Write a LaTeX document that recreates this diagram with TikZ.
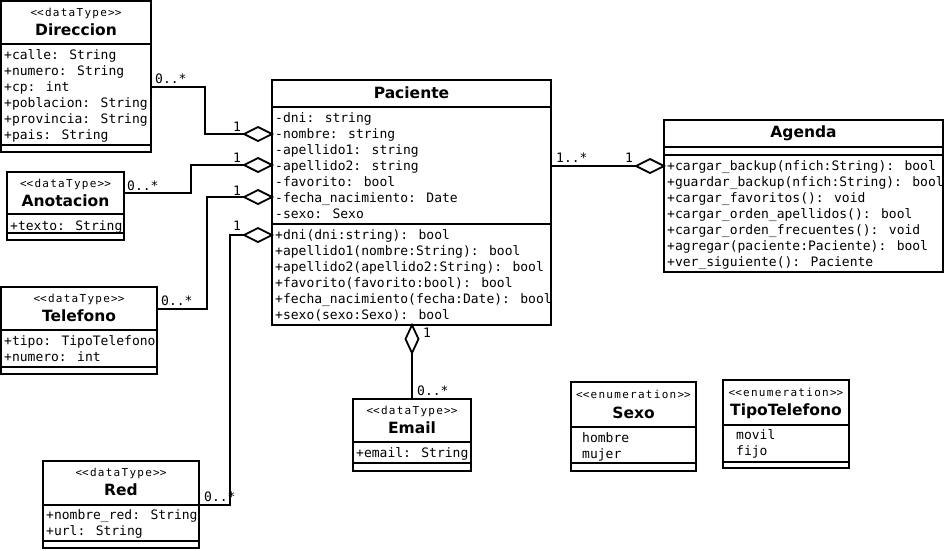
\documentclass[tikz,border=0pt]{standalone}
\usepackage{fontspec}
\setmainfont{DejaVu Sans}
\newfontfamily\monof{DejaVu Sans Mono}
\newfontfamily\stf{DejaVu Sans Mono}[LetterSpace=11.6]
\usetikzlibrary{shapes.geometric,calc}
\tikzset{
  cls/.style={draw, line width=1.8pt, inner sep=0pt, outer sep=0pt, anchor=north west},
  sep/.style={line width=1.8pt},
  ttl/.style={font=\fontsize{15.5}{18}\selectfont\bfseries, inner sep=0pt},
  stereo/.style={font=\stf\fontsize{11}{13}\selectfont, inner sep=0pt},
  attr/.style={font=\monof\fontsize{13}{16}\selectfont, inner sep=0pt, anchor=base west},
  mult/.style={font=\monof\fontsize{13}{16}\selectfont, inner sep=0pt, anchor=base west},
  agg/.style={draw, shape=diamond, fill=white, line width=1.8pt, inner sep=0pt, outer sep=0pt, minimum width=28pt, minimum height=14pt},
  aggv/.style={draw, shape=diamond, fill=white, line width=1.8pt, inner sep=0pt, outer sep=0pt, minimum width=13pt, minimum height=28pt},
  conn/.style={line width=1.8pt},
}
\newcommand\dT{<\kern0pt<dataType>\kern0pt>}
\newcommand\eN{<\kern0pt<enumeration>\kern0pt>}
\begin{document}
\begin{tikzpicture}[x=1pt,y=-1pt]
\useasboundingbox[fill=white] (0,0) rectangle (944,550);

% ---------- Direccion
\node[cls, minimum width=150pt, minimum height=151pt] (dir) at (1,1) {};
\node[stereo] at (76,13) {\dT};
\node[ttl] at (76,30) {Direccion};
\draw[sep] (1,44) -- (151,44);
\node[attr] at (4,59) {+calle: String};
\node[attr] at (4,75) {+numero: String};
\node[attr] at (4,91) {+cp: int};
\node[attr] at (4,107) {+poblacion: String};
\node[attr] at (4,123) {+provincia: String};
\node[attr] at (4,139) {+pais: String};
\draw[sep] (1,145) -- (151,145);

% ---------- Anotacion
\node[cls, minimum width=117pt, minimum height=68pt] (anot) at (7,172) {};
\node[stereo] at (65.5,184) {\dT};
\node[ttl] at (65.5,201) {Anotacion};
\draw[sep] (7,214) -- (124,214);
\node[attr] at (10,230) {+texto: String};
\draw[sep] (7,233) -- (124,233);

% ---------- Telefono
\node[cls, minimum width=156pt, minimum height=87pt] (tel) at (1,287) {};
\node[stereo] at (79,299) {\dT};
\node[ttl] at (79,316) {Telefono};
\draw[sep] (1,330) -- (157,330);
\node[attr] at (4,345) {+tipo: TipoTelefono};
\node[attr] at (4,361) {+numero: int};
\draw[sep] (1,367) -- (157,367);

% ---------- Red
\node[cls, minimum width=156pt, minimum height=87pt] (red) at (43,461) {};
\node[stereo] at (121,473) {\dT};
\node[ttl] at (121,490) {Red};
\draw[sep] (43,505) -- (199,505);
\node[attr] at (46,519) {+nombre\_red: String};
\node[attr] at (46,535) {+url: String};
\draw[sep] (43,541) -- (199,541);

% ---------- Paciente
\node[cls, minimum width=279pt, minimum height=245pt] (pac) at (272,80) {};
\node[ttl] at (411.5,93) {Paciente};
\draw[sep] (272,107) -- (551,107);
\node[attr] at (275,122) {-dni: string};
\node[attr] at (275,138) {-nombre: string};
\node[attr] at (275,154) {-apellido1: string};
\node[attr] at (275,170) {-apellido2: string};
\node[attr] at (275,186) {-favorito: bool};
\node[attr] at (275,202) {-fecha\_nacimiento: Date};
\node[attr] at (275,218) {-sexo: Sexo};
\draw[sep] (272,224) -- (551,224);
\node[attr] at (275,239) {+dni(dni:string): bool};
\node[attr] at (275,255) {+apellido1(nombre:String): bool};
\node[attr] at (275,271) {+apellido2(apellido2:String): bool};
\node[attr] at (275,287) {+favorito(favorito:bool): bool};
\node[attr] at (275,303) {+fecha\_nacimiento(fecha:Date): bool};
\node[attr] at (275,319) {+sexo(sexo:Sexo): bool};

% ---------- Agenda
\node[cls, minimum width=279pt, minimum height=152pt] (ag) at (664,120) {};
\node[ttl] at (803.5,133) {Agenda};
\draw[sep] (664,147) -- (943,147);
\draw[sep] (664,155) -- (943,155);
\node[attr] at (667,170) {+cargar\_backup(nfich:String): bool};
\node[attr] at (667,186) {+guardar\_backup(nfich:String): bool};
\node[attr] at (667,202) {+cargar\_favoritos(): void};
\node[attr] at (667,218) {+cargar\_orden\_apellidos(): bool};
\node[attr] at (667,234) {+cargar\_orden\_frecuentes(): void};
\node[attr] at (667,250) {+agregar(paciente:Paciente): bool};
\node[attr] at (667,266) {+ver\_siguiente(): Paciente};

% ---------- Email
\node[cls, minimum width=118pt, minimum height=72pt] (em) at (353,399) {};
\node[stereo] at (412,411) {\dT};
\node[ttl] at (412,428) {Email};
\draw[sep] (353,442) -- (471,442);
\node[attr] at (356,457) {+email: String};
\draw[sep] (353,463) -- (471,463);

% ---------- Sexo
\node[cls, minimum width=125pt, minimum height=89pt] (sexo) at (571,382) {};
\node[stereo] at (633.5,394) {\eN};
\node[ttl] at (633.5,413) {Sexo};
\draw[sep] (571,427) -- (696,427);
\node[attr] at (582,442) {hombre};
\node[attr] at (582,458) {mujer};
\draw[sep] (571,463) -- (696,463);

% ---------- TipoTelefono
\node[cls, minimum width=126pt, minimum height=88pt] (tt) at (723,380) {};
\node[stereo] at (786,392) {\eN};
\node[ttl] at (786,411) {TipoTelefono};
\draw[sep] (723,425) -- (849,425);
\node[attr] at (736,439) {movil};
\node[attr] at (736,455) {fijo};
\draw[sep] (723,462) -- (849,462);

% ---------- aggregation diamonds
\node[agg, anchor=east] (dDir) at ($(pac.north west)+(0,54)$) {};
\node[agg, anchor=east] (dAn)  at ($(pac.north west)+(0,85)$) {};
\node[agg, anchor=east] (dTel) at ($(pac.north west)+(0,117)$) {};
\node[agg, anchor=east] (dRed) at ($(pac.north west)+(0,155)$) {};
\node[agg, anchor=east] (dAg)  at ($(ag.north west)+(0,46)$) {};
\node[aggv, anchor=north] (dEm) at (em.north |- pac.south) {};

% ---------- connectors
\draw[conn] ($(dir.north east)+(0,86)$) -| ($(dDir.west)+(-39,0)$) -- (dDir.west);
\draw[conn] ($(anot.north east)+(0,21)$) -| ($(dAn.west)+(-53,0)$) -- (dAn.west);
\draw[conn] ($(tel.north east)+(0,22)$) -| ($(dTel.west)+(-37,0)$) -- (dTel.west);
\draw[conn] ($(red.north east)+(0,44)$) -| ($(dRed.west)+(-14,0)$) -- (dRed.west);
\draw[conn] (pac.east |- dAg.west) -- (dAg.west);
\draw[conn] (dEm.south) -- (em.north);

% ---------- multiplicities
\node[mult] (m1) at (155,83) {0..*};
\node[mult] (m2) at (233,131) {1};
\node[mult] (m3) at (127,190) {0..*};
\node[mult] (m4) at (233,162) {1};
\node[mult] (m5) at (161,305) {0..*};
\node[mult] (m6) at (233,195) {1};
\node[mult] (m7) at (204,501) {0..*};
\node[mult] (m8) at (233,230) {1};
\node[mult] (m9) at (556,162) {1..*};
\node[mult] (m10) at (625,162) {1};
\node[mult] (m11) at (423,337) {1};
\node[mult] (m12) at (417,395) {0..*};
\end{tikzpicture}
\end{document}
